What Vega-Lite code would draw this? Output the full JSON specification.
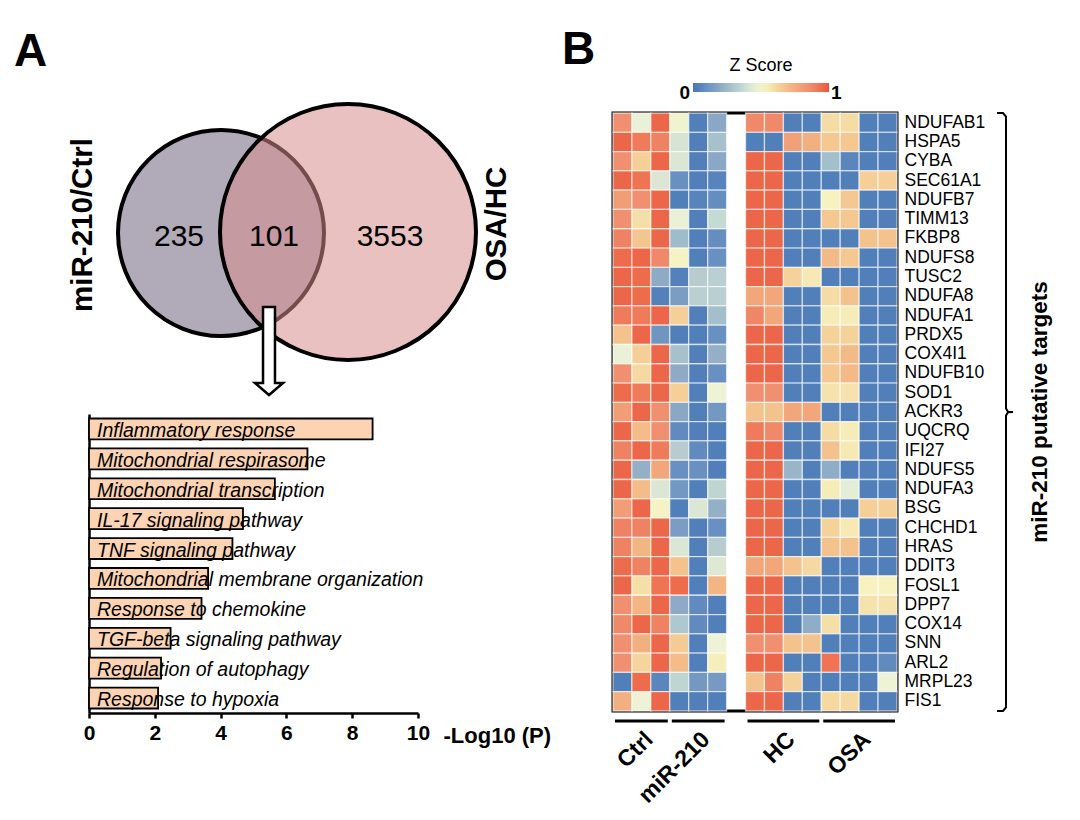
{
"$schema": "https://vega.github.io/schema/vega-lite/v6.json",
"padding": 0,
"background": "white",
"config": {"view": {"stroke": null}, "font": "Liberation Sans"},
"bounds": "flush",
"spacing": 73,
"resolve": {"scale": {"color": "independent", "fill": "independent", "size": "independent", "fillOpacity": "independent"}},
"hconcat": [
{
 "width": 540, "height": 713,
 "resolve": {"scale": {"x": "independent", "y": "independent"}},
 "layer": [
  {
   "layer": [
    {
     "data": {"values": [{"set": "miR-210/Ctrl", "vx": 221, "vy": 233, "r": 103}, {"set": "OSA/HC", "vx": 348, "vy": 232, "r": 128}]},
     "mark": {"type": "point", "shape": "circle", "filled": true, "opacity": 1, "stroke": "black", "strokeWidth": 4, "strokeOpacity": 1},
     "encoding": {
      "x": {"field": "vx", "type": "quantitative", "scale": {"domain": [0, 540], "nice": false, "zero": false}, "axis": null},
      "y": {"field": "vy", "type": "quantitative", "scale": {"domain": [0, 713], "nice": false, "zero": false, "reverse": true}, "axis": null},
      "fill": {"field": "set", "type": "nominal", "scale": {"domain": ["miR-210/Ctrl", "OSA/HC"], "range": ["#b1aab9", "#d68c8c"]}, "legend": null},
      "fillOpacity": {"field": "set", "type": "nominal", "scale": {"domain": ["miR-210/Ctrl", "OSA/HC"], "range": [1, 0.54]}, "legend": null},
      "size": {"field": "r", "type": "quantitative", "scale": {"type": "pow", "exponent": 2, "domain": [0, 128], "range": [0, 65536]}, "legend": null}
     }
    },
    {
     "data": {"values": [{"item": "arrow", "vx": 269, "vy": 351}]},
     "mark": {"type": "point", "shape": "M-0.136,-1L0.136,-1L0.136,0.727L0.318,0.727L0,1L-0.318,0.727L-0.136,0.727Z", "size": 7744, "filled": true, "opacity": 1, "fill": "white", "stroke": "black", "strokeWidth": 2.5},
     "encoding": {
      "x": {"field": "vx", "type": "quantitative", "scale": {"domain": [0, 540], "nice": false, "zero": false}, "axis": null},
      "y": {"field": "vy", "type": "quantitative", "scale": {"domain": [0, 713], "nice": false, "zero": false, "reverse": true}, "axis": null}
     }
    },
    {
     "data": {"values": [{"count": 235, "vx": 179, "vy": 237}, {"count": 101, "vx": 274, "vy": 237}, {"count": 3553, "vx": 390, "vy": 237}]},
     "mark": {"type": "text", "fontSize": 30, "align": "center", "baseline": "middle", "color": "black"},
     "encoding": {
      "x": {"field": "vx", "type": "quantitative", "scale": {"domain": [0, 540], "nice": false, "zero": false}, "axis": null},
      "y": {"field": "vy", "type": "quantitative", "scale": {"domain": [0, 713], "nice": false, "zero": false, "reverse": true}, "axis": null},
      "text": {"field": "count", "type": "quantitative", "format": "d"}
     }
    },
    {
     "data": {"values": [{"label": "miR-210/Ctrl", "vx": 83, "vy": 225}, {"label": "OSA/HC", "vx": 497, "vy": 224}]},
     "mark": {"type": "text", "fontSize": 29.5, "fontWeight": "bold", "angle": 270, "align": "center", "baseline": "middle", "color": "black"},
     "encoding": {
      "x": {"field": "vx", "type": "quantitative", "scale": {"domain": [0, 540], "nice": false, "zero": false}, "axis": null},
      "y": {"field": "vy", "type": "quantitative", "scale": {"domain": [0, 713], "nice": false, "zero": false, "reverse": true}, "axis": null},
      "text": {"field": "label"}
     }
    },
    {
     "data": {"values": [{"label": "A", "vx": 14, "vy": 52}]},
     "mark": {"type": "text", "fontSize": 46, "fontWeight": "bold", "align": "left", "baseline": "middle", "color": "black"},
     "encoding": {
      "x": {"field": "vx", "type": "quantitative", "scale": {"domain": [0, 540], "nice": false, "zero": false}, "axis": null},
      "y": {"field": "vy", "type": "quantitative", "scale": {"domain": [0, 713], "nice": false, "zero": false, "reverse": true}, "axis": null},
      "text": {"field": "label"}
     }
    }
   ]
  },
  {
   "data": {"values": [
    {"term": "Inflammatory response", "logp": 8.62},
    {"term": "Mitochondrial respirasome", "logp": 6.64},
    {"term": "Mitochondrial transcription", "logp": 5.65},
    {"term": "IL-17 signaling pathway", "logp": 4.68},
    {"term": "TNF signaling pathway", "logp": 4.36},
    {"term": "Mitochondrial membrane organization", "logp": 3.62},
    {"term": "Response to chemokine", "logp": 3.42},
    {"term": "TGF-beta signaling pathway", "logp": 2.48},
    {"term": "Regulation of autophagy", "logp": 2.19},
    {"term": "Response to hypoxia", "logp": 2.1}
   ]},
   "layer": [
    {
     "mark": {"type": "bar", "fill": "#fcd3b3", "stroke": "black", "strokeWidth": 1.8},
     "encoding": {
      "x": {"field": "logp", "type": "quantitative", "scale": {"domain": [0, 10], "range": [89, 418], "nice": false},
            "axis": {"orient": "bottom", "values": [0, 2, 4, 6, 8, 10], "format": "d", "grid": false, "labelFlush": false,
                     "labelFontSize": 21, "labelFontWeight": "bold", "labelColor": "black", "labelPadding": 4,
                     "tickColor": "black", "tickWidth": 2.5, "tickSize": 5, "domainColor": "black", "domainWidth": 2.5,
                     "title": "-Log10 (P)", "titleFontSize": 22, "titleFontWeight": "bold", "titleColor": "black",
                     "titleX": 443, "titleY": 22, "titleAlign": "left", "titleBaseline": "middle", "titleAnchor": null}},
      "y": {"field": "term", "type": "nominal", "sort": null, "scale": {"range": [414, 713], "paddingInner": 0.3, "paddingOuter": 0.15},
            "axis": {"orient": "left", "offset": -89, "labels": false, "ticks": false, "grid": false, "domainColor": "black", "domainWidth": 2.5, "title": null}}
     }
    },
    {
     "mark": {"type": "text", "fontSize": 19.5, "fontStyle": "italic", "align": "left", "baseline": "alphabetic", "dx": 8, "dy": 8, "color": "black"},
     "encoding": {
      "x": {"datum": 0, "type": "quantitative"},
      "y": {"field": "term", "type": "nominal", "sort": null},
      "text": {"field": "term"}
     }
    }
   ]
  }
 ]
},
{
 "bounds": "flush",
 "spacing": 0,
 "resolve": {"scale": {"color": "independent"}},
 "vconcat": [
  {
   "width": 284, "height": 113,
   "data": {"values": [{"panel": "B", "px": -51, "py": 50}]},
   "mark": {"type": "text", "fontSize": 46, "fontWeight": "bold", "align": "left", "baseline": "middle", "color": "black"},
   "encoding": {
    "x": {"field": "px", "type": "quantitative", "scale": {"domain": [0, 284], "nice": false, "zero": false}, "axis": null},
    "y": {"field": "py", "type": "quantitative", "scale": {"domain": [0, 113], "nice": false, "zero": false, "reverse": true}, "axis": null},
    "text": {"field": "panel"}
   }
  },
  {
   "width": 284, "height": 598,
   "view": {"stroke": "black", "strokeWidth": 3},
   "resolve": {"scale": {"x": "independent", "y": "independent"}},
   "layer": [
    {
     "data": {"values": [
{"g":"NDUFAB1","s":"Ctrl1","v":0.85},{"g":"NDUFAB1","s":"Ctrl2","v":0.47},{"g":"NDUFAB1","s":"Ctrl3","v":0.96},{"g":"NDUFAB1","s":"miR-210-1","v":0.5},{"g":"NDUFAB1","s":"miR-210-2","v":0.03},{"g":"NDUFAB1","s":"miR-210-3","v":0.19},{"g":"NDUFAB1","s":"HC1","v":0.87},{"g":"NDUFAB1","s":"HC2","v":0.87},{"g":"NDUFAB1","s":"HC3","v":0.03},{"g":"NDUFAB1","s":"HC4","v":0.03},{"g":"NDUFAB1","s":"OSA1","v":0.6},{"g":"NDUFAB1","s":"OSA2","v":0.6},{"g":"NDUFAB1","s":"OSA3","v":0.03},{"g":"NDUFAB1","s":"OSA4","v":0.03},
{"g":"HSPA5","s":"Ctrl1","v":0.96},{"g":"HSPA5","s":"Ctrl2","v":0.91},{"g":"HSPA5","s":"Ctrl3","v":0.89},{"g":"HSPA5","s":"miR-210-1","v":0.41},{"g":"HSPA5","s":"miR-210-2","v":0.03},{"g":"HSPA5","s":"miR-210-3","v":0.28},{"g":"HSPA5","s":"HC1","v":0.03},{"g":"HSPA5","s":"HC2","v":0.03},{"g":"HSPA5","s":"HC3","v":0.79},{"g":"HSPA5","s":"HC4","v":0.74},{"g":"HSPA5","s":"OSA1","v":0.66},{"g":"HSPA5","s":"OSA2","v":0.66},{"g":"HSPA5","s":"OSA3","v":0.03},{"g":"HSPA5","s":"OSA4","v":0.03},
{"g":"CYBA","s":"Ctrl1","v":0.85},{"g":"CYBA","s":"Ctrl2","v":0.64},{"g":"CYBA","s":"Ctrl3","v":0.96},{"g":"CYBA","s":"miR-210-1","v":0.42},{"g":"CYBA","s":"miR-210-2","v":0.03},{"g":"CYBA","s":"miR-210-3","v":0.19},{"g":"CYBA","s":"HC1","v":0.96},{"g":"CYBA","s":"HC2","v":0.96},{"g":"CYBA","s":"HC3","v":0.03},{"g":"CYBA","s":"HC4","v":0.03},{"g":"CYBA","s":"OSA1","v":0.27},{"g":"CYBA","s":"OSA2","v":0.06},{"g":"CYBA","s":"OSA3","v":0.03},{"g":"CYBA","s":"OSA4","v":0.03},
{"g":"SEC61A1","s":"Ctrl1","v":0.96},{"g":"SEC61A1","s":"Ctrl2","v":0.93},{"g":"SEC61A1","s":"Ctrl3","v":0.42},{"g":"SEC61A1","s":"miR-210-1","v":0.1},{"g":"SEC61A1","s":"miR-210-2","v":0.03},{"g":"SEC61A1","s":"miR-210-3","v":0.05},{"g":"SEC61A1","s":"HC1","v":0.96},{"g":"SEC61A1","s":"HC2","v":0.96},{"g":"SEC61A1","s":"HC3","v":0.03},{"g":"SEC61A1","s":"HC4","v":0.03},{"g":"SEC61A1","s":"OSA1","v":0.03},{"g":"SEC61A1","s":"OSA2","v":0.03},{"g":"SEC61A1","s":"OSA3","v":0.64},{"g":"SEC61A1","s":"OSA4","v":0.64},
{"g":"NDUFB7","s":"Ctrl1","v":0.8},{"g":"NDUFB7","s":"Ctrl2","v":0.85},{"g":"NDUFB7","s":"Ctrl3","v":0.96},{"g":"NDUFB7","s":"miR-210-1","v":0.03},{"g":"NDUFB7","s":"miR-210-2","v":0.05},{"g":"NDUFB7","s":"miR-210-3","v":0.09},{"g":"NDUFB7","s":"HC1","v":0.96},{"g":"NDUFB7","s":"HC2","v":0.96},{"g":"NDUFB7","s":"HC3","v":0.03},{"g":"NDUFB7","s":"HC4","v":0.03},{"g":"NDUFB7","s":"OSA1","v":0.53},{"g":"NDUFB7","s":"OSA2","v":0.66},{"g":"NDUFB7","s":"OSA3","v":0.03},{"g":"NDUFB7","s":"OSA4","v":0.03},
{"g":"TIMM13","s":"Ctrl1","v":0.85},{"g":"TIMM13","s":"Ctrl2","v":0.59},{"g":"TIMM13","s":"Ctrl3","v":0.96},{"g":"TIMM13","s":"miR-210-1","v":0.47},{"g":"TIMM13","s":"miR-210-2","v":0.03},{"g":"TIMM13","s":"miR-210-3","v":0.37},{"g":"TIMM13","s":"HC1","v":0.96},{"g":"TIMM13","s":"HC2","v":0.96},{"g":"TIMM13","s":"HC3","v":0.03},{"g":"TIMM13","s":"HC4","v":0.03},{"g":"TIMM13","s":"OSA1","v":0.66},{"g":"TIMM13","s":"OSA2","v":0.66},{"g":"TIMM13","s":"OSA3","v":0.03},{"g":"TIMM13","s":"OSA4","v":0.03},
{"g":"FKBP8","s":"Ctrl1","v":0.89},{"g":"FKBP8","s":"Ctrl2","v":0.67},{"g":"FKBP8","s":"Ctrl3","v":0.96},{"g":"FKBP8","s":"miR-210-1","v":0.26},{"g":"FKBP8","s":"miR-210-2","v":0.03},{"g":"FKBP8","s":"miR-210-3","v":0.09},{"g":"FKBP8","s":"HC1","v":0.96},{"g":"FKBP8","s":"HC2","v":0.96},{"g":"FKBP8","s":"HC3","v":0.03},{"g":"FKBP8","s":"HC4","v":0.03},{"g":"FKBP8","s":"OSA1","v":0.03},{"g":"FKBP8","s":"OSA2","v":0.03},{"g":"FKBP8","s":"OSA3","v":0.68},{"g":"FKBP8","s":"OSA4","v":0.68},
{"g":"NDUFS8","s":"Ctrl1","v":0.95},{"g":"NDUFS8","s":"Ctrl2","v":0.96},{"g":"NDUFS8","s":"Ctrl3","v":0.87},{"g":"NDUFS8","s":"miR-210-1","v":0.52},{"g":"NDUFS8","s":"miR-210-2","v":0.03},{"g":"NDUFS8","s":"miR-210-3","v":0.1},{"g":"NDUFS8","s":"HC1","v":0.96},{"g":"NDUFS8","s":"HC2","v":0.96},{"g":"NDUFS8","s":"HC3","v":0.03},{"g":"NDUFS8","s":"HC4","v":0.03},{"g":"NDUFS8","s":"OSA1","v":0.71},{"g":"NDUFS8","s":"OSA2","v":0.66},{"g":"NDUFS8","s":"OSA3","v":0.03},{"g":"NDUFS8","s":"OSA4","v":0.03},
{"g":"TUSC2","s":"Ctrl1","v":0.96},{"g":"TUSC2","s":"Ctrl2","v":0.95},{"g":"TUSC2","s":"Ctrl3","v":0.2},{"g":"TUSC2","s":"miR-210-1","v":0.04},{"g":"TUSC2","s":"miR-210-2","v":0.32},{"g":"TUSC2","s":"miR-210-3","v":0.33},{"g":"TUSC2","s":"HC1","v":0.96},{"g":"TUSC2","s":"HC2","v":0.96},{"g":"TUSC2","s":"HC3","v":0.63},{"g":"TUSC2","s":"HC4","v":0.56},{"g":"TUSC2","s":"OSA1","v":0.03},{"g":"TUSC2","s":"OSA2","v":0.03},{"g":"TUSC2","s":"OSA3","v":0.03},{"g":"TUSC2","s":"OSA4","v":0.03},
{"g":"NDUFA8","s":"Ctrl1","v":0.96},{"g":"NDUFA8","s":"Ctrl2","v":0.95},{"g":"NDUFA8","s":"Ctrl3","v":0.04},{"g":"NDUFA8","s":"miR-210-1","v":0.15},{"g":"NDUFA8","s":"miR-210-2","v":0.33},{"g":"NDUFA8","s":"miR-210-3","v":0.33},{"g":"NDUFA8","s":"HC1","v":0.77},{"g":"NDUFA8","s":"HC2","v":0.77},{"g":"NDUFA8","s":"HC3","v":0.03},{"g":"NDUFA8","s":"HC4","v":0.03},{"g":"NDUFA8","s":"OSA1","v":0.6},{"g":"NDUFA8","s":"OSA2","v":0.68},{"g":"NDUFA8","s":"OSA3","v":0.03},{"g":"NDUFA8","s":"OSA4","v":0.03},
{"g":"NDUFA1","s":"Ctrl1","v":0.91},{"g":"NDUFA1","s":"Ctrl2","v":0.91},{"g":"NDUFA1","s":"Ctrl3","v":0.96},{"g":"NDUFA1","s":"miR-210-1","v":0.64},{"g":"NDUFA1","s":"miR-210-2","v":0.03},{"g":"NDUFA1","s":"miR-210-3","v":0.27},{"g":"NDUFA1","s":"HC1","v":0.88},{"g":"NDUFA1","s":"HC2","v":0.77},{"g":"NDUFA1","s":"HC3","v":0.03},{"g":"NDUFA1","s":"HC4","v":0.03},{"g":"NDUFA1","s":"OSA1","v":0.55},{"g":"NDUFA1","s":"OSA2","v":0.55},{"g":"NDUFA1","s":"OSA3","v":0.03},{"g":"NDUFA1","s":"OSA4","v":0.03},
{"g":"PRDX5","s":"Ctrl1","v":0.68},{"g":"PRDX5","s":"Ctrl2","v":0.96},{"g":"PRDX5","s":"Ctrl3","v":0.12},{"g":"PRDX5","s":"miR-210-1","v":0.03},{"g":"PRDX5","s":"miR-210-2","v":0.03},{"g":"PRDX5","s":"miR-210-3","v":0.1},{"g":"PRDX5","s":"HC1","v":0.96},{"g":"PRDX5","s":"HC2","v":0.96},{"g":"PRDX5","s":"HC3","v":0.03},{"g":"PRDX5","s":"HC4","v":0.03},{"g":"PRDX5","s":"OSA1","v":0.63},{"g":"PRDX5","s":"OSA2","v":0.63},{"g":"PRDX5","s":"OSA3","v":0.03},{"g":"PRDX5","s":"OSA4","v":0.03},
{"g":"COX4I1","s":"Ctrl1","v":0.47},{"g":"COX4I1","s":"Ctrl2","v":0.64},{"g":"COX4I1","s":"Ctrl3","v":0.96},{"g":"COX4I1","s":"miR-210-1","v":0.28},{"g":"COX4I1","s":"miR-210-2","v":0.03},{"g":"COX4I1","s":"miR-210-3","v":0.22},{"g":"COX4I1","s":"HC1","v":0.96},{"g":"COX4I1","s":"HC2","v":0.96},{"g":"COX4I1","s":"HC3","v":0.03},{"g":"COX4I1","s":"HC4","v":0.03},{"g":"COX4I1","s":"OSA1","v":0.66},{"g":"COX4I1","s":"OSA2","v":0.71},{"g":"COX4I1","s":"OSA3","v":0.03},{"g":"COX4I1","s":"OSA4","v":0.03},
{"g":"NDUFB10","s":"Ctrl1","v":0.85},{"g":"NDUFB10","s":"Ctrl2","v":0.61},{"g":"NDUFB10","s":"Ctrl3","v":0.96},{"g":"NDUFB10","s":"miR-210-1","v":0.2},{"g":"NDUFB10","s":"miR-210-2","v":0.03},{"g":"NDUFB10","s":"miR-210-3","v":0.1},{"g":"NDUFB10","s":"HC1","v":0.96},{"g":"NDUFB10","s":"HC2","v":0.96},{"g":"NDUFB10","s":"HC3","v":0.03},{"g":"NDUFB10","s":"HC4","v":0.03},{"g":"NDUFB10","s":"OSA1","v":0.66},{"g":"NDUFB10","s":"OSA2","v":0.71},{"g":"NDUFB10","s":"OSA3","v":0.03},{"g":"NDUFB10","s":"OSA4","v":0.03},
{"g":"SOD1","s":"Ctrl1","v":0.95},{"g":"SOD1","s":"Ctrl2","v":0.91},{"g":"SOD1","s":"Ctrl3","v":0.96},{"g":"SOD1","s":"miR-210-1","v":0.64},{"g":"SOD1","s":"miR-210-2","v":0.03},{"g":"SOD1","s":"miR-210-3","v":0.48},{"g":"SOD1","s":"HC1","v":0.85},{"g":"SOD1","s":"HC2","v":0.85},{"g":"SOD1","s":"HC3","v":0.03},{"g":"SOD1","s":"HC4","v":0.03},{"g":"SOD1","s":"OSA1","v":0.58},{"g":"SOD1","s":"OSA2","v":0.58},{"g":"SOD1","s":"OSA3","v":0.03},{"g":"SOD1","s":"OSA4","v":0.03},
{"g":"ACKR3","s":"Ctrl1","v":0.8},{"g":"ACKR3","s":"Ctrl2","v":0.96},{"g":"ACKR3","s":"Ctrl3","v":0.85},{"g":"ACKR3","s":"miR-210-1","v":0.19},{"g":"ACKR3","s":"miR-210-2","v":0.03},{"g":"ACKR3","s":"miR-210-3","v":0.13},{"g":"ACKR3","s":"HC1","v":0.68},{"g":"ACKR3","s":"HC2","v":0.68},{"g":"ACKR3","s":"HC3","v":0.77},{"g":"ACKR3","s":"HC4","v":0.77},{"g":"ACKR3","s":"OSA1","v":0.03},{"g":"ACKR3","s":"OSA2","v":0.03},{"g":"ACKR3","s":"OSA3","v":0.03},{"g":"ACKR3","s":"OSA4","v":0.03},
{"g":"UQCRQ","s":"Ctrl1","v":0.96},{"g":"UQCRQ","s":"Ctrl2","v":0.7},{"g":"UQCRQ","s":"Ctrl3","v":0.85},{"g":"UQCRQ","s":"miR-210-1","v":0.08},{"g":"UQCRQ","s":"miR-210-2","v":0.03},{"g":"UQCRQ","s":"miR-210-3","v":0.03},{"g":"UQCRQ","s":"HC1","v":0.91},{"g":"UQCRQ","s":"HC2","v":0.87},{"g":"UQCRQ","s":"HC3","v":0.03},{"g":"UQCRQ","s":"HC4","v":0.03},{"g":"UQCRQ","s":"OSA1","v":0.6},{"g":"UQCRQ","s":"OSA2","v":0.55},{"g":"UQCRQ","s":"OSA3","v":0.03},{"g":"UQCRQ","s":"OSA4","v":0.03},
{"g":"IFI27","s":"Ctrl1","v":0.89},{"g":"IFI27","s":"Ctrl2","v":0.96},{"g":"IFI27","s":"Ctrl3","v":0.91},{"g":"IFI27","s":"miR-210-1","v":0.32},{"g":"IFI27","s":"miR-210-2","v":0.08},{"g":"IFI27","s":"miR-210-3","v":0.03},{"g":"IFI27","s":"HC1","v":0.96},{"g":"IFI27","s":"HC2","v":0.96},{"g":"IFI27","s":"HC3","v":0.03},{"g":"IFI27","s":"HC4","v":0.03},{"g":"IFI27","s":"OSA1","v":0.68},{"g":"IFI27","s":"OSA2","v":0.56},{"g":"IFI27","s":"OSA3","v":0.03},{"g":"IFI27","s":"OSA4","v":0.03},
{"g":"NDUFS5","s":"Ctrl1","v":0.96},{"g":"NDUFS5","s":"Ctrl2","v":0.22},{"g":"NDUFS5","s":"Ctrl3","v":0.77},{"g":"NDUFS5","s":"miR-210-1","v":0.1},{"g":"NDUFS5","s":"miR-210-2","v":0.1},{"g":"NDUFS5","s":"miR-210-3","v":0.03},{"g":"NDUFS5","s":"HC1","v":0.96},{"g":"NDUFS5","s":"HC2","v":0.96},{"g":"NDUFS5","s":"HC3","v":0.24},{"g":"NDUFS5","s":"HC4","v":0.03},{"g":"NDUFS5","s":"OSA1","v":0.21},{"g":"NDUFS5","s":"OSA2","v":0.03},{"g":"NDUFS5","s":"OSA3","v":0.03},{"g":"NDUFS5","s":"OSA4","v":0.03},
{"g":"NDUFA3","s":"Ctrl1","v":0.96},{"g":"NDUFA3","s":"Ctrl2","v":0.7},{"g":"NDUFA3","s":"Ctrl3","v":0.42},{"g":"NDUFA3","s":"miR-210-1","v":0.13},{"g":"NDUFA3","s":"miR-210-2","v":0.03},{"g":"NDUFA3","s":"miR-210-3","v":0.35},{"g":"NDUFA3","s":"HC1","v":0.96},{"g":"NDUFA3","s":"HC2","v":0.96},{"g":"NDUFA3","s":"HC3","v":0.03},{"g":"NDUFA3","s":"HC4","v":0.03},{"g":"NDUFA3","s":"OSA1","v":0.55},{"g":"NDUFA3","s":"OSA2","v":0.45},{"g":"NDUFA3","s":"OSA3","v":0.03},{"g":"NDUFA3","s":"OSA4","v":0.03},
{"g":"BSG","s":"Ctrl1","v":0.8},{"g":"BSG","s":"Ctrl2","v":0.96},{"g":"BSG","s":"Ctrl3","v":0.52},{"g":"BSG","s":"miR-210-1","v":0.03},{"g":"BSG","s":"miR-210-2","v":0.42},{"g":"BSG","s":"miR-210-3","v":0.22},{"g":"BSG","s":"HC1","v":0.96},{"g":"BSG","s":"HC2","v":0.96},{"g":"BSG","s":"HC3","v":0.03},{"g":"BSG","s":"HC4","v":0.03},{"g":"BSG","s":"OSA1","v":0.03},{"g":"BSG","s":"OSA2","v":0.03},{"g":"BSG","s":"OSA3","v":0.64},{"g":"BSG","s":"OSA4","v":0.64},
{"g":"CHCHD1","s":"Ctrl1","v":0.89},{"g":"CHCHD1","s":"Ctrl2","v":0.89},{"g":"CHCHD1","s":"Ctrl3","v":0.96},{"g":"CHCHD1","s":"miR-210-1","v":0.15},{"g":"CHCHD1","s":"miR-210-2","v":0.03},{"g":"CHCHD1","s":"miR-210-3","v":0.1},{"g":"CHCHD1","s":"HC1","v":0.96},{"g":"CHCHD1","s":"HC2","v":0.96},{"g":"CHCHD1","s":"HC3","v":0.03},{"g":"CHCHD1","s":"HC4","v":0.03},{"g":"CHCHD1","s":"OSA1","v":0.63},{"g":"CHCHD1","s":"OSA2","v":0.56},{"g":"CHCHD1","s":"OSA3","v":0.03},{"g":"CHCHD1","s":"OSA4","v":0.03},
{"g":"HRAS","s":"Ctrl1","v":0.89},{"g":"HRAS","s":"Ctrl2","v":0.72},{"g":"HRAS","s":"Ctrl3","v":0.96},{"g":"HRAS","s":"miR-210-1","v":0.42},{"g":"HRAS","s":"miR-210-2","v":0.03},{"g":"HRAS","s":"miR-210-3","v":0.32},{"g":"HRAS","s":"HC1","v":0.96},{"g":"HRAS","s":"HC2","v":0.96},{"g":"HRAS","s":"HC3","v":0.03},{"g":"HRAS","s":"HC4","v":0.03},{"g":"HRAS","s":"OSA1","v":0.68},{"g":"HRAS","s":"OSA2","v":0.68},{"g":"HRAS","s":"OSA3","v":0.03},{"g":"HRAS","s":"OSA4","v":0.03},
{"g":"DDIT3","s":"Ctrl1","v":0.95},{"g":"DDIT3","s":"Ctrl2","v":0.89},{"g":"DDIT3","s":"Ctrl3","v":0.96},{"g":"DDIT3","s":"miR-210-1","v":0.68},{"g":"DDIT3","s":"miR-210-2","v":0.03},{"g":"DDIT3","s":"miR-210-3","v":0.43},{"g":"DDIT3","s":"HC1","v":0.77},{"g":"DDIT3","s":"HC2","v":0.77},{"g":"DDIT3","s":"HC3","v":0.68},{"g":"DDIT3","s":"HC4","v":0.61},{"g":"DDIT3","s":"OSA1","v":0.03},{"g":"DDIT3","s":"OSA2","v":0.03},{"g":"DDIT3","s":"OSA3","v":0.03},{"g":"DDIT3","s":"OSA4","v":0.03},
{"g":"FOSL1","s":"Ctrl1","v":0.96},{"g":"FOSL1","s":"Ctrl2","v":0.59},{"g":"FOSL1","s":"Ctrl3","v":0.93},{"g":"FOSL1","s":"miR-210-1","v":0.95},{"g":"FOSL1","s":"miR-210-2","v":0.03},{"g":"FOSL1","s":"miR-210-3","v":0.72},{"g":"FOSL1","s":"HC1","v":0.96},{"g":"FOSL1","s":"HC2","v":0.96},{"g":"FOSL1","s":"HC3","v":0.03},{"g":"FOSL1","s":"HC4","v":0.03},{"g":"FOSL1","s":"OSA1","v":0.03},{"g":"FOSL1","s":"OSA2","v":0.03},{"g":"FOSL1","s":"OSA3","v":0.53},{"g":"FOSL1","s":"OSA4","v":0.53},
{"g":"DPP7","s":"Ctrl1","v":0.85},{"g":"DPP7","s":"Ctrl2","v":0.72},{"g":"DPP7","s":"Ctrl3","v":0.96},{"g":"DPP7","s":"miR-210-1","v":0.2},{"g":"DPP7","s":"miR-210-2","v":0.08},{"g":"DPP7","s":"miR-210-3","v":0.03},{"g":"DPP7","s":"HC1","v":0.96},{"g":"DPP7","s":"HC2","v":0.96},{"g":"DPP7","s":"HC3","v":0.03},{"g":"DPP7","s":"HC4","v":0.03},{"g":"DPP7","s":"OSA1","v":0.03},{"g":"DPP7","s":"OSA2","v":0.03},{"g":"DPP7","s":"OSA3","v":0.58},{"g":"DPP7","s":"OSA4","v":0.58},
{"g":"COX14","s":"Ctrl1","v":0.87},{"g":"COX14","s":"Ctrl2","v":0.96},{"g":"COX14","s":"Ctrl3","v":0.89},{"g":"COX14","s":"miR-210-1","v":0.3},{"g":"COX14","s":"miR-210-2","v":0.08},{"g":"COX14","s":"miR-210-3","v":0.03},{"g":"COX14","s":"HC1","v":0.96},{"g":"COX14","s":"HC2","v":0.96},{"g":"COX14","s":"HC3","v":0.03},{"g":"COX14","s":"HC4","v":0.21},{"g":"COX14","s":"OSA1","v":0.59},{"g":"COX14","s":"OSA2","v":0.03},{"g":"COX14","s":"OSA3","v":0.03},{"g":"COX14","s":"OSA4","v":0.03},
{"g":"SNN","s":"Ctrl1","v":0.85},{"g":"SNN","s":"Ctrl2","v":0.74},{"g":"SNN","s":"Ctrl3","v":0.96},{"g":"SNN","s":"miR-210-1","v":0.65},{"g":"SNN","s":"miR-210-2","v":0.03},{"g":"SNN","s":"miR-210-3","v":0.48},{"g":"SNN","s":"HC1","v":0.85},{"g":"SNN","s":"HC2","v":0.85},{"g":"SNN","s":"HC3","v":0.68},{"g":"SNN","s":"HC4","v":0.68},{"g":"SNN","s":"OSA1","v":0.03},{"g":"SNN","s":"OSA2","v":0.03},{"g":"SNN","s":"OSA3","v":0.03},{"g":"SNN","s":"OSA4","v":0.03},
{"g":"ARL2","s":"Ctrl1","v":0.85},{"g":"ARL2","s":"Ctrl2","v":0.62},{"g":"ARL2","s":"Ctrl3","v":0.96},{"g":"ARL2","s":"miR-210-1","v":0.7},{"g":"ARL2","s":"miR-210-2","v":0.03},{"g":"ARL2","s":"miR-210-3","v":0.54},{"g":"ARL2","s":"HC1","v":0.96},{"g":"ARL2","s":"HC2","v":0.96},{"g":"ARL2","s":"HC3","v":0.03},{"g":"ARL2","s":"HC4","v":0.03},{"g":"ARL2","s":"OSA1","v":0.93},{"g":"ARL2","s":"OSA2","v":0.03},{"g":"ARL2","s":"OSA3","v":0.03},{"g":"ARL2","s":"OSA4","v":0.08},
{"g":"MRPL23","s":"Ctrl1","v":0.03},{"g":"MRPL23","s":"Ctrl2","v":0.95},{"g":"MRPL23","s":"Ctrl3","v":0.06},{"g":"MRPL23","s":"miR-210-1","v":0.35},{"g":"MRPL23","s":"miR-210-2","v":0.13},{"g":"MRPL23","s":"miR-210-3","v":0.14},{"g":"MRPL23","s":"HC1","v":0.68},{"g":"MRPL23","s":"HC2","v":0.89},{"g":"MRPL23","s":"HC3","v":0.63},{"g":"MRPL23","s":"HC4","v":0.03},{"g":"MRPL23","s":"OSA1","v":0.03},{"g":"MRPL23","s":"OSA2","v":0.03},{"g":"MRPL23","s":"OSA3","v":0.03},{"g":"MRPL23","s":"OSA4","v":0.48},
{"g":"FIS1","s":"Ctrl1","v":0.74},{"g":"FIS1","s":"Ctrl2","v":0.48},{"g":"FIS1","s":"Ctrl3","v":0.96},{"g":"FIS1","s":"miR-210-1","v":0.03},{"g":"FIS1","s":"miR-210-2","v":0.03},{"g":"FIS1","s":"miR-210-3","v":0.03},{"g":"FIS1","s":"HC1","v":0.96},{"g":"FIS1","s":"HC2","v":0.96},{"g":"FIS1","s":"HC3","v":0.03},{"g":"FIS1","s":"HC4","v":0.03},{"g":"FIS1","s":"OSA1","v":0.61},{"g":"FIS1","s":"OSA2","v":0.61},{"g":"FIS1","s":"OSA3","v":0.03},{"g":"FIS1","s":"OSA4","v":0.03}
     ]},
     "mark": {"type": "rect", "stroke": "white", "strokeWidth": 1.3, "strokeOpacity": 0.6},
     "encoding": {
      "x": {"field": "s", "type": "nominal", "scale": {"domain": ["Ctrl1","Ctrl2","Ctrl3","miR-210-1","miR-210-2","miR-210-3","gap","HC1","HC2","HC3","HC4","OSA1","OSA2","OSA3","OSA4"], "paddingInner": 0, "paddingOuter": 0}, "axis": null},
      "y": {"field": "g", "type": "nominal", "scale": {"domain": ["NDUFAB1","HSPA5","CYBA","SEC61A1","NDUFB7","TIMM13","FKBP8","NDUFS8","TUSC2","NDUFA8","NDUFA1","PRDX5","COX4I1","NDUFB10","SOD1","ACKR3","UQCRQ","IFI27","NDUFS5","NDUFA3","BSG","CHCHD1","HRAS","DDIT3","FOSL1","DPP7","COX14","SNN","ARL2","MRPL23","FIS1"], "paddingInner": 0, "paddingOuter": 0},
            "axis": {"orient": "right", "ticks": false, "domain": false, "grid": false, "labelFontSize": 17.5, "labelColor": "black", "labelPadding": 7, "title": null}},
      "color": {"field": "v", "type": "quantitative",
                "scale": {"domain": [0, 0.1, 0.2, 0.32, 0.42, 0.48, 0.53, 0.6, 0.66, 0.75, 0.85, 0.93, 1],
                          "range": ["#4677b7", "#6890c0", "#8eaac6", "#b8ccd0", "#dce6d4", "#eef3d6", "#f7f2c0", "#f5dca4", "#f5c892", "#f2ac7e", "#f09070", "#ee7454", "#e9553a"]},
                "legend": {"orient": "none", "legendX": 80, "legendY": -56, "direction": "horizontal", "gradientLength": 136, "gradientThickness": 9, "gradientStrokeWidth": 0,
                           "title": "Z Score", "titleFontSize": 18, "titleFontWeight": "normal", "titleColor": "black", "titleAnchor": "middle", "titlePadding": 8,
                           "values": [0, 1], "format": "d", "labelFontSize": 19, "labelFontWeight": "bold", "labelColor": "black", "labelBaseline": "bottom", "labelOffset": -8,
                           "encode": {"labels": {"update": {"align": {"signal": "datum.value < 0.5 ? 'right' : 'left'"}, "dx": {"signal": "datum.value < 0.5 ? -3 : 2"}}}}}}
     }
    },
    {
     "data": {"values": [
      {"k": 1, "bx": 384, "by": 0.0}, {"k": 2, "bx": 390, "by": 0.0}, {"k": 3, "bx": 393, "by": 0.006},
      {"k": 4, "bx": 393, "by": 0.494}, {"k": 5, "bx": 395, "by": 0.4995}, {"k": 6, "bx": 400, "by": 0.5},
      {"k": 7, "bx": 395, "by": 0.5005}, {"k": 8, "bx": 393, "by": 0.506}, {"k": 9, "bx": 393, "by": 0.994},
      {"k": 10, "bx": 390, "by": 1.0}, {"k": 11, "bx": 384, "by": 1.0}
     ]},
     "mark": {"type": "line", "color": "black", "strokeWidth": 2},
     "encoding": {
      "x": {"field": "bx", "type": "quantitative", "scale": {"domain": [0, 284], "nice": false, "zero": false}, "axis": null},
      "y": {"field": "by", "type": "quantitative", "scale": {"domain": [0, 1], "nice": false, "zero": false, "reverse": true}, "axis": null},
      "order": {"field": "k", "type": "quantitative"}
     }
    },
    {
     "data": {"values": [{"label": "miR-210 putative targets", "bx": 427, "by": 0.5}]},
     "mark": {"type": "text", "angle": 270, "fontSize": 22.5, "fontWeight": "bold", "align": "center", "baseline": "middle", "color": "black"},
     "encoding": {
      "x": {"field": "bx", "type": "quantitative", "scale": {"domain": [0, 284], "nice": false, "zero": false}, "axis": null},
      "y": {"field": "by", "type": "quantitative", "scale": {"domain": [0, 1], "nice": false, "zero": false, "reverse": true}, "axis": null},
      "text": {"field": "label"}
     }
    }
   ]
  },
  {
   "width": 284, "height": 109,
   "data": {"values": [
    {"grp": "Ctrl", "start": 0, "end": 3, "mid": 1.5},
    {"grp": "miR-210", "start": 3, "end": 6, "mid": 4.5},
    {"grp": "HC", "start": 7, "end": 11, "mid": 9},
    {"grp": "OSA", "start": 11, "end": 15, "mid": 13}
   ]},
   "layer": [
    {
     "mark": {"type": "rule", "strokeWidth": 3, "color": "black", "xOffset": 2, "x2Offset": -2},
     "encoding": {
      "x": {"field": "start", "type": "quantitative", "scale": {"domain": [0, 15], "nice": false, "zero": false}, "axis": null},
      "x2": {"field": "end"},
      "y": {"datum": 10, "type": "quantitative", "scale": {"domain": [0, 109], "nice": false, "zero": false, "reverse": true}, "axis": null}
     }
    },
    {
     "mark": {"type": "text", "angle": 315, "align": "right", "baseline": "middle", "fontSize": 23, "fontWeight": "bold", "color": "black", "xOffset": 8},
     "encoding": {
      "x": {"field": "mid", "type": "quantitative", "scale": {"domain": [0, 15], "nice": false, "zero": false}, "axis": null},
      "y": {"datum": 25, "type": "quantitative", "scale": {"domain": [0, 109], "nice": false, "zero": false, "reverse": true}, "axis": null},
      "text": {"field": "grp"}
     }
    }
   ]
  }
 ]
}
]
}
